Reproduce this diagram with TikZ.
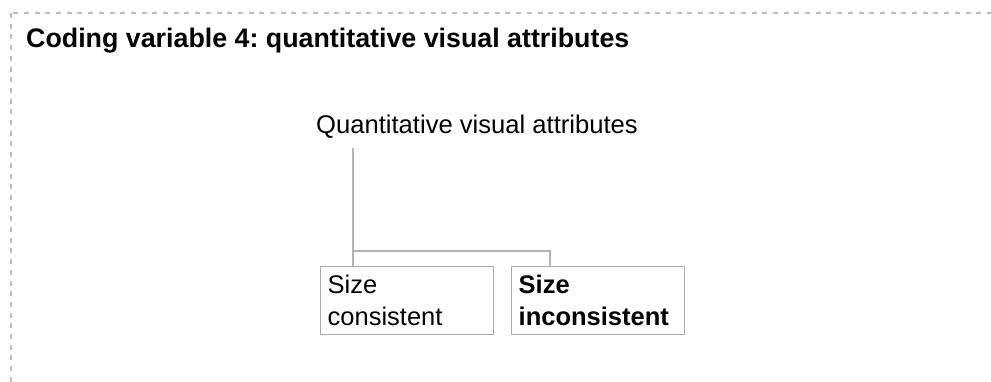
\documentclass[tikz,border=0pt]{standalone}
\usepackage{fontspec}
\setmainfont{Liberation Sans}
\usepackage{xcolor}
\usetikzlibrary{calc}
\frenchspacing
\definecolor{frameC}{HTML}{BDBDBD}
\definecolor{lineC}{HTML}{B4B4B4}
\definecolor{boxC}{HTML}{ABABAB}
\tikzset{
  frame/.style={draw=frameC,line width=1.2pt,dash pattern=on 5pt off 5.7pt},
  link/.style={draw=lineC,line width=1.5pt},
  catbox/.style={draw=boxC,line width=1.4pt,anchor=north west,
    minimum width=173pt,minimum height=68pt,text width=159pt,
    inner xsep=7pt,inner ysep=0pt,align=left,
    font=\fontsize{25.5}{32}\selectfont},
}
\begin{document}
\begin{tikzpicture}[x=1pt,y=-1pt]
\useasboundingbox (0,0) rectangle (991,381);
\draw[frame] (11,13) rectangle (1020,420);
\node[anchor=base west,inner sep=0pt,font=\fontsize{26.8}{30}\selectfont\bfseries] (title) at (26,47)
  {Coding variable 4: quantitative visual attributes};
\node[anchor=base west,inner sep=0pt,font=\fontsize{25.6}{30}\selectfont] (root) at (316,133)
  {Quantitative visual attributes};
\node[catbox] (sizecons) at (320,266) {Size\\consistent};
\node[catbox,font=\fontsize{25.5}{32}\selectfont\bfseries] (sizeincons) at (511,266) {Size\\inconsistent};
% tree connectors
\coordinate (stem) at (353,148);
\coordinate (fork) at (353,251);
\coordinate (drop) at (550,251);
\draw[link] (stem) -- (stem |- sizecons.north);
\draw[link] (fork) -- (drop) -- (drop |- sizeincons.north);
\end{tikzpicture}
\end{document}
